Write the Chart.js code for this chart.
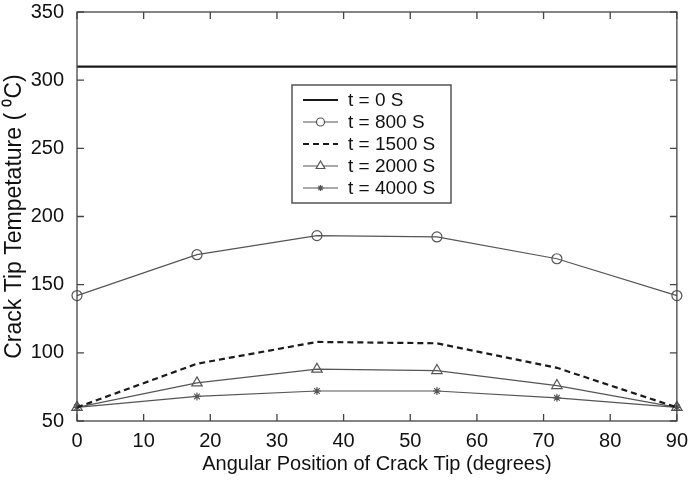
<!DOCTYPE html>
<html>
<head>
<meta charset="utf-8">
<script src="https://cdn.jsdelivr.net/npm/chart.js@4/dist/chart.umd.min.js"></script>
<style>
  html, body { margin: 0; padding: 0; background: #fff; }
  #wrap { width: 688px; height: 480px; position: relative; }
</style>
</head>
<body>
<div id="wrap"><canvas id="tempChart" width="688" height="480"></canvas></div>
<script>
// Angular positions (degrees)
const angles = [0, 18, 36, 54, 72, 90];

// Crack tip temperature (°C) per time step
const t0 = [310, 310, 310, 310, 310, 310];
const t800 = [142, 172, 186, 185, 169, 142];
const t1500 = [60, 92, 108, 107, 89, 60];
const t2000 = [60, 78, 88, 87, 76, 60];
const t4000 = [60, 68, 72, 72, 67, 60];

const seriesLabels = ['t = 0 S', 't = 800 S', 't = 1500 S', 't = 2000 S', 't = 4000 S'];
const xTicks = [0, 10, 20, 30, 40, 50, 60, 70, 80, 90];
const yTicks = [50, 100, 150, 200, 250, 300, 350];

const FONT = 'Liberation Sans, Arial, sans-serif';
const INK = '#111';

const toPts = arr => arr.map((v, i) => ({ x: angles[i], y: v }));

const datasets = [
    { label: seriesLabels[0], data: toPts(t0), borderColor: '#1a1a1a', borderWidth: 2.2, pointRadius: 0, pointStyle: false },
    { label: seriesLabels[1], data: toPts(t800), borderColor: '#555', borderWidth: 1.2, pointStyle: 'circle', pointRadius: 5, pointBorderWidth: 1.2 },
    { label: seriesLabels[2], data: toPts(t1500), borderColor: '#1a1a1a', borderWidth: 2.2, borderDash: [6, 4], pointRadius: 0, pointStyle: false },
    { label: seriesLabels[3], data: toPts(t2000), borderColor: '#555', borderWidth: 1.2, pointStyle: 'triangle', pointRadius: 6, pointBorderWidth: 1.2 },
    { label: seriesLabels[4], data: toPts(t4000), borderColor: '#555', borderWidth: 1.2, pointStyle: 'star', pointRadius: 4, pointBorderWidth: 1.2 }
].map(d => Object.assign({ backgroundColor: 'rgba(0,0,0,0)', pointBackgroundColor: 'rgba(0,0,0,0)', pointBorderColor: d.borderColor, tension: 0, clip: false }, d));

// MATLAB-like box with inward ticks + inset legend
const boxPlugin = {
    id: 'matlabBox',
    afterDraw(chart) {
        const { ctx, chartArea: a, scales } = chart;
        ctx.save();
        ctx.strokeStyle = '#444';
        ctx.lineWidth = 1.3;
        ctx.strokeRect(a.left, a.top, a.right - a.left, a.bottom - a.top);
        ctx.beginPath();
        xTicks.forEach(v => {
            const x = scales.x.getPixelForValue(v);
            ctx.moveTo(x, a.bottom); ctx.lineTo(x, a.bottom - 7);
            ctx.moveTo(x, a.top); ctx.lineTo(x, a.top + 7);
        });
        yTicks.forEach(v => {
            const y = scales.y.getPixelForValue(v);
            ctx.moveTo(a.left, y); ctx.lineTo(a.left + 7, y);
            ctx.moveTo(a.right, y); ctx.lineTo(a.right - 7, y);
        });
        ctx.stroke();

        // legend
        const lx = 292, ly = 85, lw = 159, lh = 118, row = 22;
        ctx.fillStyle = '#fff';
        ctx.fillRect(lx, ly, lw, lh);
        ctx.strokeStyle = '#555';
        ctx.lineWidth = 1.5;
        ctx.strokeRect(lx, ly, lw, lh);
        ctx.font = '19px ' + FONT;
        ctx.textBaseline = 'middle';
        chart.data.datasets.forEach((ds, i) => {
            const y = ly + 15 + i * row;
            ctx.strokeStyle = ds.borderColor;
            ctx.lineWidth = ds.borderWidth;
            ctx.setLineDash(ds.borderDash || []);
            ctx.beginPath();
            ctx.moveTo(303, y); ctx.lineTo(338, y);
            ctx.stroke();
            ctx.setLineDash([]);
            if (ds.pointStyle) {
                ctx.lineWidth = ds.pointBorderWidth;
                ctx.fillStyle = '#fff';
                Chart.helpers.drawPoint(ctx, { pointStyle: ds.pointStyle, radius: ds.pointRadius - 1, borderWidth: ds.pointBorderWidth }, 320.5, y);
            }
            ctx.fillStyle = INK;
            ctx.fillText(ds.label, 348, y + 1);
        });
        ctx.restore();
    }
};

new Chart(document.getElementById('tempChart'), {
    type: 'line',
    data: { datasets },
    options: {
        responsive: false,
        animation: false,
        layout: { padding: { top: 0, right: 11, left: 0, bottom: 0 } },
        plugins: { legend: { display: false }, tooltip: { enabled: false } },
        scales: {
            x: {
                type: 'linear', min: 0, max: 90,
                afterBuildTicks: s => { s.ticks = xTicks.map(v => ({ value: v })); },
                afterFit: s => { s.height = 59; },
                grid: { display: false },
                border: { display: false },
                ticks: { color: INK, font: { family: FONT, size: 20 }, padding: 0, maxRotation: 0 },
                title: { display: true, text: 'Angular Position of Crack Tip (degrees)', color: INK, font: { family: FONT, size: 20 }, padding: { top: 0 } }
            },
            y: {
                type: 'linear', min: 50, max: 350,
                afterBuildTicks: s => { s.ticks = yTicks.map(v => ({ value: v })); },
                afterFit: s => { s.width = 77; s.paddingTop = 12; s.paddingBottom = 0; },
                grid: { display: false },
                border: { display: false },
                ticks: { color: INK, font: { family: FONT, size: 20 }, padding: 5 },
                title: { display: true, text: 'Crack Tip Tempetature ( \u2070C)', color: INK, font: { family: FONT, size: 23 }, padding: { top: 1, bottom: 0 } }
            }
        }
    },
    plugins: [boxPlugin]
});
</script>
</body>
</html>
